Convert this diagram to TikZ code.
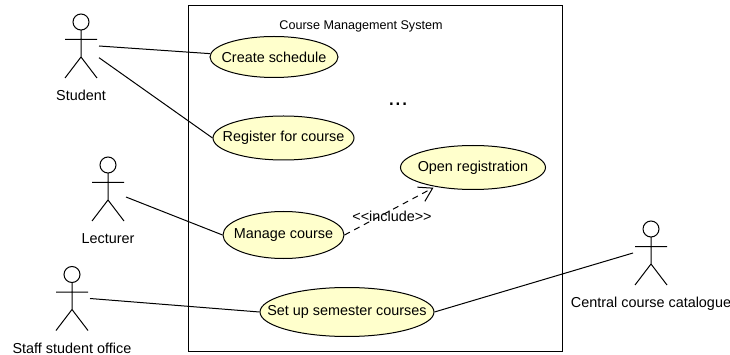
\documentclass[tikz,border=0pt]{standalone}
\usepackage{fontspec}
\setmainfont{Liberation Sans}
\usetikzlibrary{positioning, shapes.geometric, arrows.meta}
\definecolor{usecasefill}{HTML}{FFFFCC}
\newcommand{\uclabel}[1]{\makebox[0pt]{#1}}
\tikzset{
  usecase/.style={ellipse, draw, fill=usecasefill, inner sep=0pt, line width=1pt},
  actor/.style={minimum width=36pt, minimum height=66pt, inner sep=0pt, outer sep=0pt,
    label={[label distance=10pt, inner sep=1pt]below:#1},
    path picture={
      \draw[line width=1pt, shift={(path picture bounding box.center)}]
        (0,24) circle (8) (0,16) -- (0,-11) (-16,6.5) -- (16,6.5)
        (-16,-32) -- (0,-11) -- (16,-32);
    }},
  include/.style={dash pattern=on 6pt off 5pt, line width=1pt, -{Straight Barb[length=13pt, width=16pt]}, shorten >=2pt}
}
\begin{document}
\begin{tikzpicture}[x=1pt, y=1pt, on grid, every node/.append style={font=\fontsize{14.4}{17}\selectfont}]
  \useasboundingbox (0,0) rectangle (730,-355);
  \node[draw, line width=1pt, minimum width=374pt, minimum height=345pt] (system) at (375,-178.5) {};
  \node[font=\fontsize{12.6}{15}\selectfont] (title) [above left = 152.5pt and 14pt of system] {Course Management System};
  \node[usecase, minimum width=128pt, minimum height=41pt] (create) [above left = 121.5pt and 101pt of system] {\uclabel{Create schedule}};
  \node[usecase, minimum width=141pt, minimum height=44pt] (register) [below right = 81pt and 9.5pt of create] {\uclabel{Register for course}};
  \node[usecase, minimum width=145pt, minimum height=44pt] (open) [below right = 110.5pt and 199pt of create] {\uclabel{Open registration}};
  \node[usecase, minimum width=121pt, minimum height=47pt] (manage) [below right = 178pt and 9.5pt of create] {\uclabel{Manage course}};
  \node[usecase, minimum width=174pt, minimum height=49pt] (setup) [below right = 255pt and 73pt of create] {\uclabel{Set up semester courses}};
  \node[font=\fontsize{24}{24}\selectfont] (dots) [below right = 47pt and 124pt of create] {...};
  \node[actor=Student] (student) [above left = 11pt and 193pt of create] {};
  \node[actor=Lecturer] (lecturer) [below right = 143pt and 27pt of student] {};
  \node[actor=Staff student office] (staff) [below left = 109.5pt and 36pt of lecturer] {};
  \node[actor=Central course catalogue] (catalogue) [above right = 59pt and 304pt of setup] {};
  \path[draw, line width=1pt] (student.east) edge (create.177);
  \path[draw, line width=1pt] (student.-33) edge (register.west);
  \path[draw, line width=1pt] (lecturer.-24) edge (manage.west);
  \path[draw, line width=1pt] (staff.east) edge (setup.west);
  \path[draw, line width=1pt] (catalogue.west) edge (setup.east);
  \draw[include] (manage.east) -- (open.207);
  \node (includelabel) [below right = 159pt and 118pt of create] {<{}<include>{}>};
\end{tikzpicture}
\end{document}
